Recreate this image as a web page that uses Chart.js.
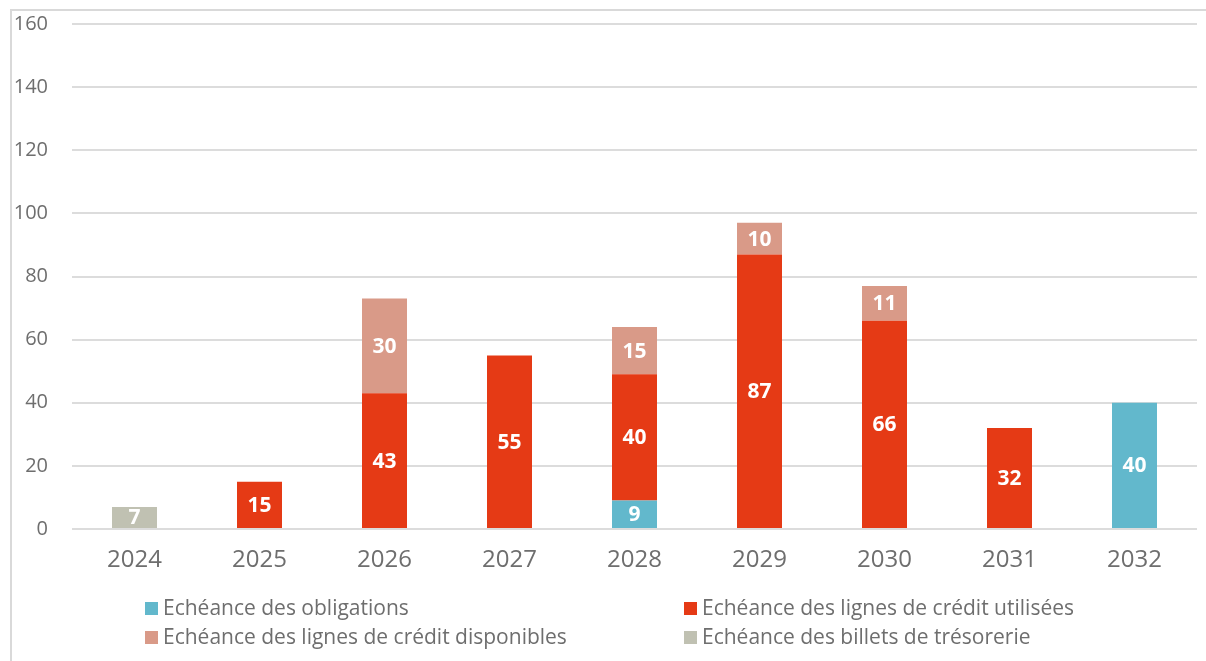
<!DOCTYPE html>
<html>
<head>
<meta charset="utf-8">
<script src="https://cdn.jsdelivr.net/npm/chart.js@4/dist/chart.umd.min.js"></script>
<style>
  html, body { margin: 0; padding: 0; background: #fff; }
  #wrap { position: relative; width: 1206px; height: 661px; }
  #frame { position: absolute; left: 10px; top: 9px; right: 0; bottom: 0;
           border-left: 2px solid #d9d9d9; border-top: 2px solid #d9d9d9; }
  canvas { position: absolute; left: 0; top: 0; }
</style>
</head>
<body>
<div id="wrap">
  <div id="frame"></div>
  <canvas id="chart" width="1206" height="661"></canvas>
</div>
<script>
const years = ['2024', '2025', '2026', '2027', '2028', '2029', '2030', '2031', '2032'];
const obligations = [null, null, null, null, 9, null, null, null, 40];
const creditUtilise = [null, 15, 43, 55, 40, 87, 66, 32, null];
const creditDispo = [null, null, 30, null, 15, 10, 11, null, null];
const billets = [7, null, null, null, null, null, null, null, null];
const yTicks = [0, 20, 40, 60, 80, 100, 120, 140, 160];

const FONT = '"Open Sans", Lato, sans-serif';
const TEXT = '#6e6e6e';

// values written in white in the middle of each segment
const segmentLabels = {
  id: 'segmentLabels',
  afterDatasetsDraw(chart) {
    const ctx = chart.ctx;
    ctx.save();
    ctx.fillStyle = '#fff';
    ctx.font = 'bold 21px ' + FONT;
    ctx.textAlign = 'center';
    ctx.textBaseline = 'middle';
    chart.data.datasets.forEach((ds, i) => {
      chart.getDatasetMeta(i).data.forEach((bar, j) => {
        const v = ds.data[j];
        if (!v) return;
        ctx.fillText(String(v), bar.x, (bar.y + bar.base) / 2 + 1);
      });
    });
    ctx.restore();
  }
};

// two-column legend under the axis
const gridLegend = {
  id: 'gridLegend',
  afterDraw(chart) {
    const ctx = chart.ctx;
    const cols = [145, 684];
    const rows = [608, 637];
    ctx.save();
    ctx.font = '21px ' + FONT;
    ctx.textBaseline = 'middle';
    ctx.textAlign = 'left';
    chart.data.datasets.forEach((ds, k) => {
      const x = cols[k % 2];
      const y = rows[Math.floor(k / 2)];
      ctx.fillStyle = ds.backgroundColor;
      ctx.fillRect(x, y - 6, 13, 13);
      ctx.fillStyle = TEXT;
      ctx.fillText(ds.label, x + 18, y + 1);
    });
    ctx.restore();
  }
};

new Chart(document.getElementById('chart'), {
  type: 'bar',
  data: {
    labels: years,
    datasets: [
      { label: 'Echéance des obligations', data: obligations, backgroundColor: '#62b8cc' },
      { label: 'Echéance des lignes de crédit utilisées', data: creditUtilise, backgroundColor: '#e53a15' },
      { label: 'Echéance des lignes de crédit disponibles', data: creditDispo, backgroundColor: '#d99a88' },
      { label: 'Echéance des billets de trésorerie', data: billets, backgroundColor: '#c0c1b2' }
    ]
  },
  options: {
    responsive: false,
    animation: false,
    layout: { padding: { left: 0, right: 9, top: 24, bottom: 72 } },
    datasets: { bar: { barPercentage: 0.36, categoryPercentage: 1 } },
    scales: {
      x: {
        stacked: true,
        grid: { display: false, drawTicks: false },
        border: { display: false },
        ticks: { color: TEXT, font: { family: FONT, size: 24 }, padding: 17 },
        afterFit(scale) { scale.height = 60; }
      },
      y: {
        stacked: true,
        min: 0,
        max: 160,
        afterBuildTicks(scale) { scale.ticks = yTicks.map(v => ({ value: v })); },
        grid: { color: '#dcdcdc', lineWidth: 2, drawTicks: false },
        border: { display: false },
        ticks: { color: TEXT, font: { family: FONT, size: 20 }, padding: 24 },
        afterFit(scale) {
          scale.width = 72;
          scale.paddingTop = 0;
          scale.paddingBottom = 0;
        }
      }
    },
    plugins: {
      legend: { display: false },
      tooltip: { enabled: false }
    }
  },
  plugins: [segmentLabels, gridLegend]
});
</script>
</body>
</html>
